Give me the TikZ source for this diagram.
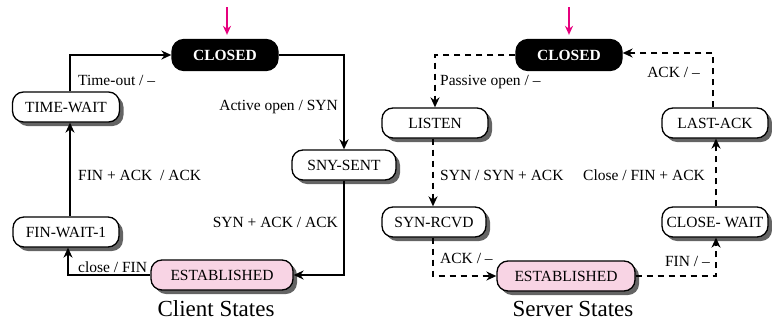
\documentclass[tikz,border=0pt]{standalone}
\usepackage{fontspec}
\setmainfont{Liberation Serif}
\usetikzlibrary{arrows.meta,shadows}
\definecolor{pinkfill}{RGB}{248,212,228}
\definecolor{magentaarrow}{RGB}{230,0,126}
\definecolor{shadowgray}{RGB}{100,100,100}
\tikzset{
  statebox/.style={draw=black, line width=1.3pt, rounded corners=11pt, fill=white,
    minimum height=30pt, inner sep=2pt, font=\fontsize{15.5}{17}\selectfont,
    drop shadow={shadow xshift=4pt, shadow yshift=-4pt, fill=shadowgray, opacity=1}},
  closedbox/.style={draw=black, line width=1.3pt, rounded corners=12pt, fill=black, text=white,
    minimum height=31pt, minimum width=106pt, font=\fontsize{15.5}{17}\selectfont\bfseries},
  estbox/.style={statebox, fill=pinkfill},
  conn/.style={line width=2.4pt, -{Stealth[length=10pt,width=9pt]}},
  dconn/.style={conn, dash pattern=on 6.5pt off 4.5pt},
  lbl/.style={font=\fontsize{15.5}{17}\selectfont, inner sep=0pt},
  title/.style={font=\fontsize{23}{26}\selectfont, inner sep=0pt},
  startarrow/.style={draw=magentaarrow, line width=2pt, -{Stealth[length=9pt,width=8pt]}}
}
\begin{document}
\begin{tikzpicture}[x=1pt,y=-1pt]
\useasboundingbox (0,0) rectangle (772,322);
% ---------- Client ----------
\node[closedbox] (cc) at (225,55) {CLOSED};
\node[statebox, minimum width=107pt] (tw) at (66,107) {TIME-WAIT};
\node[statebox, minimum width=104pt] (ss) at (344,165) {SNY-SENT};
\node[statebox, minimum width=106pt] (fw) at (66,232) {FIN-WAIT-1};
\node[estbox, minimum width=142pt] (ce) at (222,275) {ESTABLISHED};
\node[title, anchor=base] (ct) at (216,316) {Client States};
\coordinate (cs) at (227,7);
\draw[startarrow] (cs) -- ([yshift=4pt]cs |- cc.north);

\draw[conn] ([xshift=4pt]tw.north) |- (cc.west);
\draw[conn] (cc.east) -| (ss.north);
\draw[conn] (ss.south) |- (ce.east);
\draw[conn] (ce.west) -| ([xshift=2pt]fw.south);
\draw[conn] ([xshift=4pt]fw.north) -- ([xshift=4pt]tw.south);

\node[lbl, anchor=west] (l1) at (78,80) {Time-out / –};
\node[lbl, anchor=east] (l2) at (338,107) {Active open / SYN};
\node[lbl, anchor=east] (l3) at (338,222) {SYN + ACK / ACK};
\node[lbl, anchor=west] (l4) at (78,267) {close / FIN};
\node[lbl, anchor=west] (l5) at (78,175) {FIN + ACK \ / ACK};

% ---------- Server ----------
\node[closedbox] (sc) at (569,55) {CLOSED};
\node[statebox, minimum width=106pt] (li) at (435,123) {LISTEN};
\node[statebox, minimum width=106pt] (la) at (715,123) {LAST-ACK};
\node[statebox, minimum width=104pt] (sr) at (434,222) {SYN-RCVD};
\node[statebox, minimum width=106pt] (cw) at (715,222) {CLOSE- WAIT};
\node[estbox, minimum width=138pt] (se) at (566,276) {ESTABLISHED};
\node[title, anchor=base] (st) at (573,316) {Server States};
\coordinate (ssa) at (569,7);
\draw[startarrow] (ssa) -- ([yshift=4pt]ssa |- sc.north);

\draw[dconn] (sc.west) -| (li.north);
\draw[dconn] ([xshift=-2pt]li.south) -- ([xshift=-1pt]sr.north);
\draw[dconn] ([xshift=-1pt]sr.south) |- (se.west);
\draw[dconn] (se.east) -| ([xshift=1pt]cw.south);
\draw[dconn] ([xshift=1pt]cw.north) -- ([xshift=1pt]la.south);
\draw[dconn] ([xshift=-2pt]la.north) |- ([yshift=2pt]sc.east);

\node[lbl, anchor=west] (m1) at (440,82) {Passive open / –};
\node[lbl, anchor=west] (m2) at (440,175) {SYN / SYN + ACK};
\node[lbl, anchor=west] (m3) at (440,258) {ACK / –};
\node[lbl, anchor=east] (m4) at (710,261) {FIN / –};
\node[lbl, anchor=east] (m5) at (705,175) {Close / FIN + ACK};
\node[lbl, anchor=east] (m6) at (700,72) {ACK / –};
\end{tikzpicture}
\end{document}
